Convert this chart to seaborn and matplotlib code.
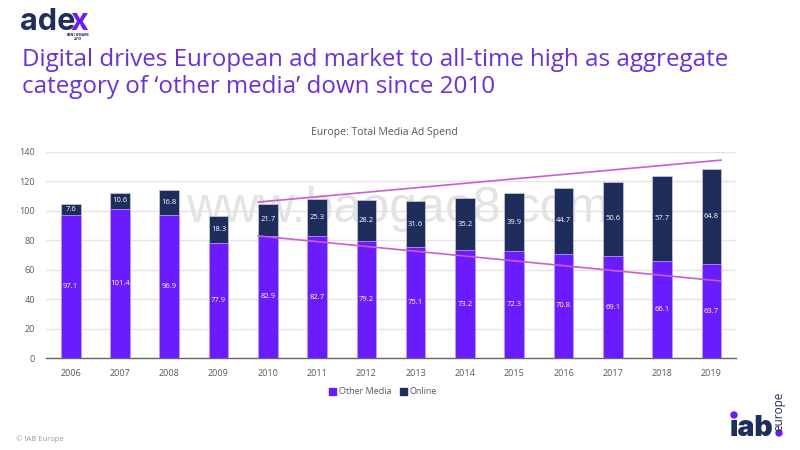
import matplotlib
matplotlib.use('Agg')
import matplotlib.pyplot as plt
import pandas as pd
import seaborn as sns
from matplotlib.patches import Circle, Patch
from matplotlib.transforms import IdentityTransform

years = [2006, 2007, 2008, 2009, 2010, 2011, 2012, 2013, 2014, 2015, 2016, 2017, 2018, 2019]
other_media = [97.1, 101.4, 96.9, 77.9, 82.9, 82.7, 79.2, 75.1, 73.2, 72.3, 70.8, 69.1, 66.1, 63.7]
online = [7.6, 10.6, 16.8, 18.3, 21.7, 25.3, 28.2, 31.6, 35.2, 39.9, 44.7, 50.6, 57.7, 64.8]

# trend lines, x is in bar positions (0 = 2006)
trend_x = [3.8, 13.2]
trend_up = [105.8, 134.3]
trend_down = [82.9, 52.2]

PURPLE = '#6a1bff'
NAVY = '#1f2d5c'
GREY = '#595959'
PINK = '#c95fd0'

sns.set_theme(style='whitegrid')
plt.rcParams['font.family'] = ['Open Sans', 'DejaVu Sans']

df = pd.DataFrame({'year': years, 'other': other_media, 'online': online})
df['total'] = df['other'] + df['online']

fig = plt.figure(figsize=(8, 4.5), dpi=100)
ax = fig.add_axes([46 / 800, 92 / 450, 690 / 800, 206.3 / 450])
ax.patch.set_alpha(0)

sns.barplot(data=df, x='year', y='total', color=NAVY, width=0.4, saturation=1,
            edgecolor='#c9cde0', linewidth=0.5, zorder=3, ax=ax)
sns.barplot(data=df, x='year', y='other', color=PURPLE, width=0.4, saturation=1,
            edgecolor='#c9b0ff', linewidth=0.5, zorder=3, ax=ax)

# label each segment at its own centre
for i, year in enumerate(years):
    ax.text(i, other_media[i] / 2, f'{other_media[i]:.1f}', color='white', fontsize=5.5,
            ha='center', va='center', zorder=5)
    ax.text(i, other_media[i] + online[i] / 2, f'{online[i]:.1f}', color='white', fontsize=5.5,
            ha='center', va='center', zorder=5)

ax.plot(trend_x, trend_up, color=PINK, lw=1.2, zorder=6)
ax.plot(trend_x, trend_down, color=PINK, lw=1.2, zorder=6)

ax.set_xlim(-0.5, 13.5)
ax.set_ylim(0, 140)
ax.set_yticks(range(0, 141, 20))
ax.set_xlabel('')
ax.set_ylabel('')
ax.grid(axis='y', color='#e4e4e4', lw=1, zorder=1)
ax.grid(axis='x', visible=False)
ax.set_axisbelow(True)
ax.tick_params(axis='x', labelsize=6.5, labelcolor=GREY, length=0, pad=8)
ax.tick_params(axis='y', labelsize=6.5, labelcolor=GREY, length=0, pad=8)
for side in ['top', 'left', 'right']:
    ax.spines[side].set_visible(False)
ax.spines['bottom'].set_color('#666666')
ax.spines['bottom'].set_linewidth(1)

ax.legend(handles=[Patch(color=PURPLE, label='Other Media'), Patch(color=NAVY, label='Online')],
          loc='center', bbox_to_anchor=(383 / 800, 1 - 392 / 450), bbox_transform=fig.transFigure,
          ncol=2, frameon=False, fontsize=6.5, labelcolor=GREY, handlelength=0.8,
          handleheight=0.8, handletextpad=0.3, columnspacing=0.9)

fig.text(384 / 800, 1 - 133 / 450, 'Europe: Total Media Ad Spend', fontsize=7.5, color=GREY,
         ha='center', va='center')

fig.text(22 / 800, 1 - 60 / 450, 'Digital drives European ad market to all-time high as aggregate',
         fontsize=17.35, color='#6a2fe0', ha='left', va='center')
fig.text(22 / 800, 1 - 87 / 450, 'category of \u2018other media\u2019 down since 2010',
         fontsize=17.35, color='#6a2fe0', ha='left', va='center')

# watermark sits behind the bars
ax.text(398 / 800, 1 - 209 / 450, 'www.baogao8.com', fontsize=36, color='#e3e3e3',
        family='Liberation Sans', ha='center', va='center', zorder=0, transform=fig.transFigure)

# logos as text
fig.text(20 / 800, 1 - 30 / 450, 'ade', fontsize=22, fontweight='bold', family='Inter', color=NAVY,
         ha='left', va='baseline')
fig.text(70 / 800, 1 - 30 / 450, 'x', fontsize=22, fontweight='bold', family='Inter', color=PURPLE,
         ha='left', va='baseline')
fig.text(78 / 800, 1 - 37 / 450, 'BENCHMARK\n2019', fontsize=2.5, fontweight='bold', color=NAVY,
         ha='center', va='center', linespacing=0.9)

fig.text(730 / 800, 1 - 436 / 450, '\u0131ab', fontsize=20.5, fontweight='black', family='Inter', color=NAVY,
         ha='left', va='baseline')
fig.text(779 / 800, 1 - 392 / 450, 'europe', fontsize=8.5, color=NAVY, rotation=90, ha='center', va='top')
for px, py in [(734, 415), (779, 433)]:
    fig.add_artist(Circle((px, 450 - py), 3, color=PURPLE, transform=IdentityTransform()))

fig.text(16 / 800, 1 - 439 / 450, '\u00a9 IAB Europe', fontsize=5.5, color='#999999', ha='left', va='center')

fig.savefig('out.png', dpi=100)
